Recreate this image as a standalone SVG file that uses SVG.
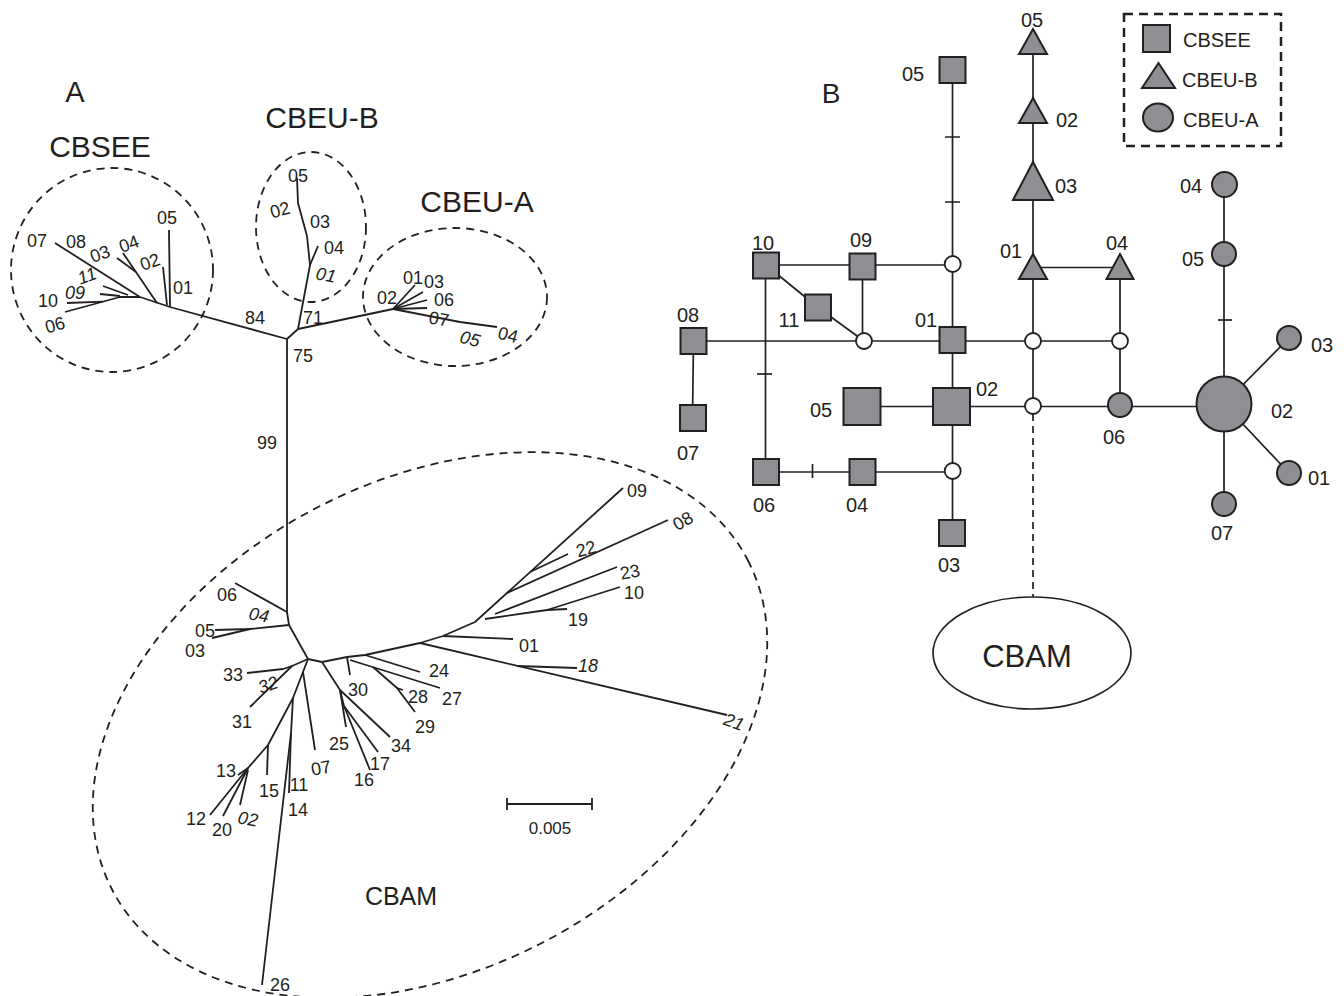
<svg xmlns="http://www.w3.org/2000/svg" width="1344" height="996" viewBox="0 0 1344 996">
<style>
text{font-family:"Liberation Sans",Arial,sans-serif;fill:#231f20}
.l{font-size:18px;text-anchor:middle}
.i{font-style:italic}
.n{font-size:20px;text-anchor:middle}
.big{font-size:30px;text-anchor:middle}
.tr{fill:none;stroke:#231f20;stroke-width:1.8;stroke-linejoin:round}
.cl{fill:none;stroke:#231f20;stroke-width:1.8;stroke-dasharray:8 6}
.e{fill:none;stroke:#231f20;stroke-width:1.7}
.nd{fill:#8f8f93;stroke:#231f20;stroke-width:2}
.op{fill:#fff;stroke:#231f20;stroke-width:1.8}
</style>
<rect width="1344" height="996" fill="#fff"/>

<!-- Panel A -->
<g id="panelA-labels">
<text x="75" y="102" style="font-size:29px" text-anchor="middle">A</text>
<text x="100" y="157" class="big">CBSEE</text>
<text x="322" y="128" class="big">CBEU-B</text>
<text x="477" y="212" class="big">CBEU-A</text>
<text x="401" y="905" style="font-size:25px" text-anchor="middle">CBAM</text>
</g>

<g id="clusters">
<ellipse cx="112" cy="270" rx="101" ry="102" class="cl"/>
<ellipse cx="311" cy="227" rx="55" ry="75" class="cl"/>
<ellipse cx="455" cy="297" rx="92" ry="69" class="cl"/>
<ellipse cx="430" cy="725" rx="358" ry="245" transform="rotate(-27.4 430 725)" class="cl"/>
</g>

<g id="tree-connectors" class="tr">
<path d="M170,307 L287,339"/>
<path d="M287,339 L298,329 L393,309"/>
<path d="M298,329 L310,265 L307,236 L298,203 L297,178"/>
<path d="M310,265 L318,246"/>
<path d="M287,339 L287,612 L289,625 L308,659 L322,662"/>
<!-- CBSEE -->
<path d="M170,307 L169,230"/>
<path d="M167,305 L163,267"/>
<path d="M157,303 L123,253"/>
<path d="M136,272 L117,258"/>
<path d="M170,307 L140,297 L55,243"/>
<path d="M140,297 L120,297 L65,312"/>
<path d="M103,301.6 L67,303"/>
<path d="M120,296 L100,294"/>
<path d="M128,295 L103,286"/>
<!-- CBEU-A -->
<path d="M393,309 L415,285"/>
<path d="M393,309 L423,292"/>
<path d="M393,309 L427,300"/>
<path d="M393,309 L427,308"/>
<path d="M393,309 L460,322 L497,327"/>
<!-- CBAM left -->
<path d="M287,612 L235,583"/>
<path d="M289,625 L250,629 L215,630"/>
<path d="M250,629 L212,638"/>
<path d="M308,659 L292,666 L250,707"/>
<path d="M292,666 L283,669 L247,673"/>
<path d="M308,659 L293,698 L268,745 L248,768 L210,815"/>
<path d="M248,768 L238,775"/>
<path d="M248,768 L223,816"/>
<path d="M248,770 L240,805"/>
<path d="M268,745 L267,775"/>
<path d="M293,698 L291,733 L289,793"/>
<path d="M291,733 L262,985"/>
<path d="M303,672 L315,750"/>
<!-- 30 cluster -->
<path d="M322,662 L340,690 L390,737"/>
<path d="M340,690 L346,727"/>
<path d="M340,690 L344,706 L370,770"/>
<path d="M344,706 L378,752"/>
<!-- right subtree -->
<path d="M322,662 L347,657 L365,655 L420,643 L443,636 L475,622 L623,488"/>
<path d="M347,657 L350,675"/>
<path d="M350,660 L440,688"/>
<path d="M373,667 L397,688 L415,712"/>
<path d="M397,688 L403,690"/>
<path d="M365,655 L420,672"/>
<path d="M443,636 L513,639"/>
<path d="M420,643 L727,715"/>
<path d="M517,666 L577,668"/>
<path d="M507,593 L668,520"/>
<path d="M530,572 L568,554"/>
<path d="M495,614 L617,567"/>
<path d="M485,619 L547,610 L620,587"/>
<path d="M547,610 L567,609"/>
<!-- scale bar -->
<path d="M507,804 L592,804 M507,798 L507,810 M592,798 L592,810"/>
</g>

<g id="tree-labels">
<!-- CBSEE -->
<text class="l" x="167" y="224">05</text>
<text class="l" x="150" y="268" transform="rotate(-20 150 262)">02</text>
<text class="l" x="183" y="294">01</text>
<text class="l" x="129" y="250" transform="rotate(-20 129 244)">04</text>
<text class="l" x="100" y="260" transform="rotate(-20 100 254)">03</text>
<text class="l" x="76" y="248">08</text>
<text class="l" x="37" y="247">07</text>
<text class="l i" x="87" y="282" transform="rotate(-20 87 276)">11</text>
<text class="l i" x="75" y="299">09</text>
<text class="l" x="48" y="307">10</text>
<text class="l" x="55" y="331" transform="rotate(-15 55 325)">06</text>
<!-- CBEU-B -->
<text class="l" x="298" y="182">05</text>
<text class="l" x="280" y="216" transform="rotate(-15 280 210)">02</text>
<text class="l" x="320" y="228">03</text>
<text class="l" x="334" y="254">04</text>
<text class="l i" x="326" y="281" transform="rotate(10 326 275)">01</text>
<!-- CBEU-A -->
<text class="l" x="413" y="284">01</text>
<text class="l" x="434" y="288">03</text>
<text class="l" x="444" y="306">06</text>
<text class="l" x="387" y="304">02</text>
<text class="l" x="439" y="325" transform="rotate(10 439 319)">07</text>
<text class="l i" x="470" y="345" transform="rotate(15 470 339)">05</text>
<text class="l" x="508" y="341" transform="rotate(15 508 335)">04</text>
<!-- support values -->
<text class="l" x="255" y="324">84</text>
<text class="l" x="313" y="324">71</text>
<text class="l" x="303" y="362">75</text>
<text class="l" x="267" y="449">99</text>
<!-- CBAM -->
<text class="l" x="227" y="601">06</text>
<text class="l i" x="259" y="621" transform="rotate(10 259 615)">04</text>
<text class="l" x="205" y="637">05</text>
<text class="l" x="195" y="657">03</text>
<text class="l" x="233" y="681">33</text>
<text class="l i" x="268" y="691" transform="rotate(-20 268 685)">32</text>
<text class="l" x="242" y="728">31</text>
<text class="l" x="226" y="777">13</text>
<text class="l" x="269" y="797">15</text>
<text class="l" x="196" y="825">12</text>
<text class="l" x="222" y="836">20</text>
<text class="l i" x="248" y="825" transform="rotate(10 248 819)">02</text>
<text class="l" x="299" y="791">11</text>
<text class="l" x="298" y="816">14</text>
<text class="l" x="321" y="774" transform="rotate(-10 321 768)">07</text>
<text class="l" x="339" y="750">25</text>
<text class="l" x="380" y="770">17</text>
<text class="l" x="364" y="786">16</text>
<text class="l" x="401" y="752">34</text>
<text class="l" x="358" y="696">30</text>
<text class="l" x="418" y="703">28</text>
<text class="l" x="452" y="705">27</text>
<text class="l" x="425" y="733">29</text>
<text class="l" x="439" y="677">24</text>
<text class="l" x="529" y="652">01</text>
<text class="l i" x="588" y="672">18</text>
<text class="l i" x="734" y="728" transform="rotate(20 734 722)">21</text>
<text class="l" x="578" y="626">19</text>
<text class="l" x="634" y="599">10</text>
<text class="l" x="630" y="578" transform="rotate(-10 630 572)">23</text>
<text class="l" x="683" y="527" transform="rotate(-30 683 521)">08</text>
<text class="l" x="586" y="555" transform="rotate(-15 586 549)">22</text>
<text class="l" x="637" y="497">09</text>
<text class="l" x="280" y="991">26</text>
<text class="l" x="550" y="834" style="font-size:17px">0.005</text>
</g>

<!-- Panel B -->
<text x="831" y="103" style="font-size:28px" text-anchor="middle">B</text>

<g id="network-connectors" class="e">
<path d="M952.5,70 V264"/>
<path d="M945,137 H960 M945,202 H960"/>
<path d="M766,265 H952.5"/>
<path d="M766,265 L818,307.5 L864,341"/>
<path d="M862.5,266 V341"/>
<path d="M693.5,341 H1120"/>
<path d="M952.5,264 V533"/>
<path d="M765.5,265 V472"/>
<path d="M757,374 H772"/>
<path d="M693.5,341 L692.5,418"/>
<path d="M766,472 H952.5"/>
<path d="M812.5,464 V478"/>
<path d="M862,406.5 H1224"/>
<path d="M1033,29 V406"/>
<path d="M1033,267.5 H1120 V405"/>
<path d="M1224,184.5 V504"/>
<path d="M1218,320 H1232"/>
<path d="M1224,404 L1289,338 M1224,404 L1289,473"/>
</g>
<path d="M1033,414 V597" fill="none" stroke="#231f20" stroke-width="1.7" stroke-dasharray="7 5"/>

<g id="haplo-CBSEE">
<rect id="s05" x="939.5" y="57" width="26" height="26" class="nd"/>
<rect id="s10" x="753" y="252.5" width="26" height="26" class="nd"/>
<rect id="s09" x="849.5" y="253.5" width="26" height="26" class="nd"/>
<rect id="s11" x="805" y="294.5" width="26" height="26" class="nd"/>
<rect id="s08" x="680.5" y="328" width="26" height="26" class="nd"/>
<rect id="s01" x="939.5" y="327" width="26" height="26" class="nd"/>
<rect id="s07" x="680" y="405" width="26" height="26" class="nd"/>
<rect id="s05b" x="843.5" y="388" width="37" height="37" class="nd"/>
<rect id="s02" x="933" y="388" width="37" height="37" class="nd"/>
<rect id="s06" x="753" y="459" width="26" height="26" class="nd"/>
<rect id="s04" x="849.5" y="459" width="26" height="26" class="nd"/>
<rect id="s03" x="939" y="520" width="26" height="26" class="nd"/>
</g>

<g id="haplo-CBEU-B">
<polygon points="1033,29 1047,54 1019,54" class="nd"/>
<polygon points="1033,98 1047,123 1019,123" class="nd"/>
<polygon points="1033,162 1053,200 1013,200" class="nd"/>
<polygon points="1033,254 1047,279 1019,279" class="nd"/>
<polygon points="1120,254 1133.5,279 1106.5,279" class="nd"/>
</g>

<g id="haplo-CBEU-A">
<circle cx="1224.5" cy="184.5" r="12.5" class="nd"/>
<circle cx="1224" cy="254" r="12" class="nd"/>
<circle cx="1224" cy="404" r="27.5" class="nd"/>
<circle cx="1289" cy="338" r="12" class="nd"/>
<circle cx="1289" cy="473" r="12" class="nd"/>
<circle cx="1224" cy="504" r="12" class="nd"/>
<circle cx="1120" cy="405" r="12" class="nd"/>
</g>

<g id="median-vectors">
<circle cx="952.7" cy="264" r="8" class="op"/>
<circle cx="864" cy="341" r="8" class="op"/>
<circle cx="1033" cy="341" r="8" class="op"/>
<circle cx="1120" cy="341" r="8" class="op"/>
<circle cx="1033" cy="406" r="8" class="op"/>
<circle cx="952.7" cy="471" r="8" class="op"/>
</g>

<g id="cbam-node">
<ellipse cx="1032" cy="653" rx="99" ry="56" fill="#fff" stroke="#231f20" stroke-width="1.7"/>
<text x="1027" y="667" style="font-size:31px" text-anchor="middle">CBAM</text>
</g>

<g id="network-labels">
<text class="n" x="913" y="81">05</text>
<text class="n" x="1032" y="27">05</text>
<text class="n" x="1067" y="127">02</text>
<text class="n" x="1066" y="193">03</text>
<text class="n" x="1011" y="258">01</text>
<text class="n" x="1117" y="250">04</text>
<text class="n" x="763" y="250">10</text>
<text class="n" x="861" y="247">09</text>
<text class="n" x="789" y="327">11</text>
<text class="n" x="688" y="322">08</text>
<text class="n" x="926" y="327">01</text>
<text class="n" x="987" y="396">02</text>
<text class="n" x="821" y="417">05</text>
<text class="n" x="688" y="460">07</text>
<text class="n" x="764" y="512">06</text>
<text class="n" x="857" y="512">04</text>
<text class="n" x="949" y="572">03</text>
<text class="n" x="1114" y="444">06</text>
<text class="n" x="1191" y="193">04</text>
<text class="n" x="1193" y="266">05</text>
<text class="n" x="1322" y="352">03</text>
<text class="n" x="1282" y="418">02</text>
<text class="n" x="1319" y="485">01</text>
<text class="n" x="1222" y="540">07</text>
</g>

<g id="legend">
<rect x="1124" y="14" width="157" height="132" fill="none" stroke="#231f20" stroke-width="2.5" stroke-dasharray="9 6"/>
<rect x="1143" y="25" width="27" height="27" class="nd"/>
<polygon points="1158.5,63 1175,88 1142,88" class="nd"/>
<ellipse cx="1158" cy="117.5" rx="15" ry="14" class="nd"/>
<text x="1183" y="47" style="font-size:20px">CBSEE</text>
<text x="1182" y="87" style="font-size:20px">CBEU-B</text>
<text x="1183" y="127" style="font-size:20px">CBEU-A</text>
</g>
</svg>
